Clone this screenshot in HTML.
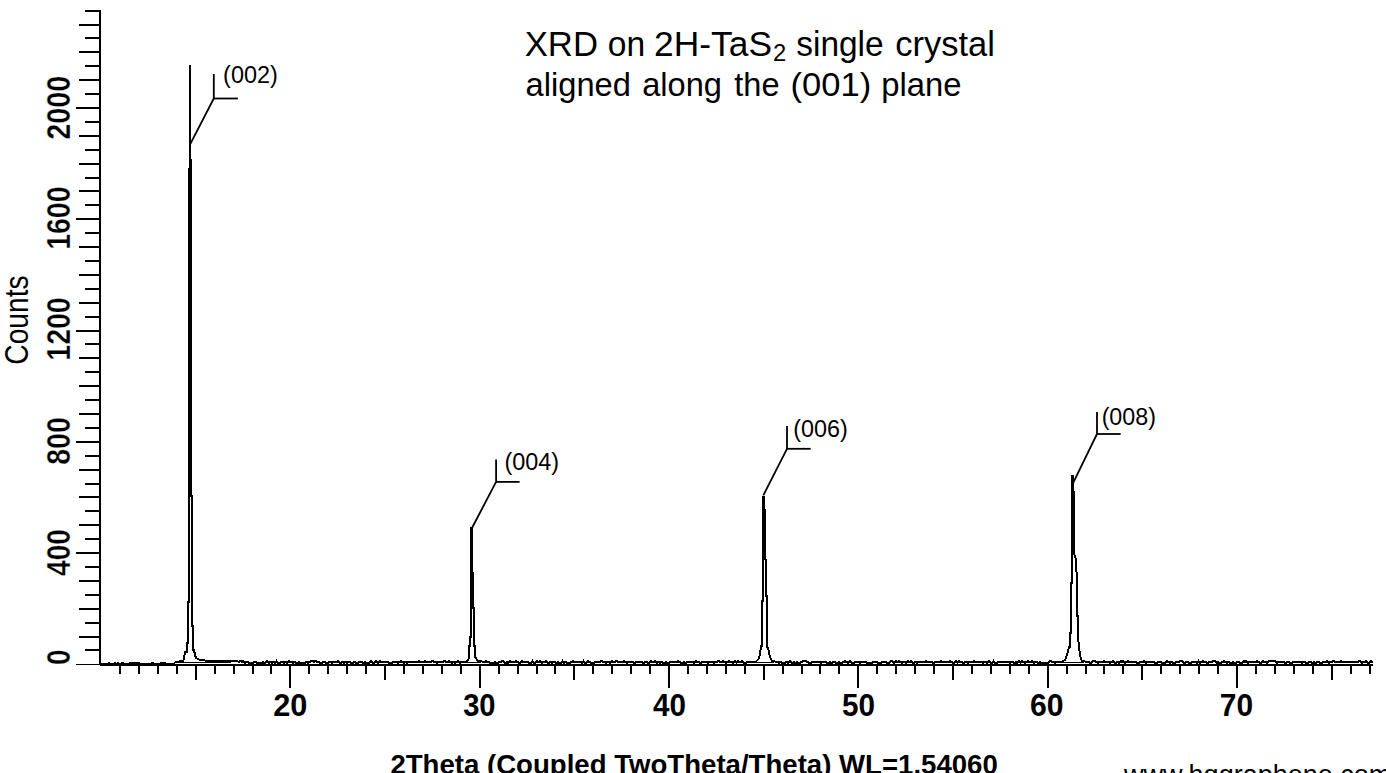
<!DOCTYPE html>
<html><head><meta charset="utf-8"><style>html,body{margin:0;padding:0;background:#fff;width:1386px;height:773px;overflow:hidden}svg{position:absolute;left:0;top:0}text{font-family:"Liberation Sans",sans-serif;fill:#000}</style></head>
<body><svg width="1386" height="773" viewBox="0 0 1386 773">
<g shape-rendering="crispEdges" fill="#000"><rect x="99" y="10" width="2" height="654"/><rect x="76" y="664" width="24" height="1.3"/><rect x="85" y="649" width="15" height="2"/><rect x="79" y="636" width="21" height="2"/><rect x="85" y="622" width="15" height="2"/><rect x="79" y="608" width="21" height="2"/><rect x="85" y="594" width="15" height="2"/><rect x="79" y="580" width="21" height="2"/><rect x="85" y="566" width="15" height="2"/><rect x="76" y="552" width="24" height="2"/><rect x="85" y="538" width="15" height="2"/><rect x="79" y="524" width="21" height="2"/><rect x="85" y="510" width="15" height="2"/><rect x="79" y="496" width="21" height="2"/><rect x="85" y="483" width="15" height="2"/><rect x="79" y="469" width="21" height="2"/><rect x="85" y="455" width="15" height="2"/><rect x="76" y="441" width="24" height="2"/><rect x="85" y="427" width="15" height="2"/><rect x="79" y="413" width="21" height="2"/><rect x="85" y="399" width="15" height="2"/><rect x="79" y="385" width="21" height="2"/><rect x="85" y="371" width="15" height="2"/><rect x="79" y="357" width="21" height="2"/><rect x="85" y="343" width="15" height="2"/><rect x="76" y="330" width="24" height="2"/><rect x="85" y="316" width="15" height="2"/><rect x="79" y="302" width="21" height="2"/><rect x="85" y="288" width="15" height="2"/><rect x="79" y="274" width="21" height="2"/><rect x="85" y="260" width="15" height="2"/><rect x="79" y="246" width="21" height="2"/><rect x="85" y="232" width="15" height="2"/><rect x="76" y="218" width="24" height="2"/><rect x="85" y="204" width="15" height="2"/><rect x="79" y="190" width="21" height="2"/><rect x="85" y="177" width="15" height="2"/><rect x="79" y="163" width="21" height="2"/><rect x="85" y="149" width="15" height="2"/><rect x="79" y="135" width="21" height="2"/><rect x="85" y="121" width="15" height="2"/><rect x="76" y="107" width="24" height="2"/><rect x="85" y="93" width="15" height="2"/><rect x="79" y="79" width="21" height="2"/><rect x="85" y="65" width="15" height="2"/><rect x="79" y="51" width="21" height="2"/><rect x="85" y="37" width="15" height="2"/><rect x="79" y="24" width="21" height="2"/><rect x="85" y="10" width="15" height="2"/><rect x="100" y="664" width="1273" height="2"/><rect x="119" y="665" width="2" height="8.7"/><rect x="138" y="665" width="2" height="8.7"/><rect x="157" y="665" width="2" height="8.7"/><rect x="176" y="665" width="2" height="8.7"/><rect x="195" y="665" width="2" height="14.6"/><rect x="214" y="665" width="2" height="8.7"/><rect x="233" y="665" width="2" height="8.7"/><rect x="252" y="665" width="2" height="8.7"/><rect x="270" y="665" width="2" height="8.7"/><rect x="289" y="665" width="2" height="23.3"/><rect x="308" y="665" width="2" height="8.7"/><rect x="327" y="665" width="2" height="8.7"/><rect x="346" y="665" width="2" height="8.7"/><rect x="365" y="665" width="2" height="8.7"/><rect x="384" y="665" width="2" height="14.6"/><rect x="403" y="665" width="2" height="8.7"/><rect x="422" y="665" width="2" height="8.7"/><rect x="441" y="665" width="2" height="8.7"/><rect x="460" y="665" width="2" height="8.7"/><rect x="479" y="665" width="2" height="23.3"/><rect x="498" y="665" width="2" height="8.7"/><rect x="517" y="665" width="2" height="8.7"/><rect x="536" y="665" width="2" height="8.7"/><rect x="554" y="665" width="2" height="8.7"/><rect x="573" y="665" width="2" height="14.6"/><rect x="592" y="665" width="2" height="8.7"/><rect x="611" y="665" width="2" height="8.7"/><rect x="630" y="665" width="2" height="8.7"/><rect x="649" y="665" width="2" height="8.7"/><rect x="668" y="665" width="2" height="23.3"/><rect x="687" y="665" width="2" height="8.7"/><rect x="706" y="665" width="2" height="8.7"/><rect x="725" y="665" width="2" height="8.7"/><rect x="744" y="665" width="2" height="8.7"/><rect x="763" y="665" width="2" height="14.6"/><rect x="782" y="665" width="2" height="8.7"/><rect x="801" y="665" width="2" height="8.7"/><rect x="819" y="665" width="2" height="8.7"/><rect x="838" y="665" width="2" height="8.7"/><rect x="857" y="665" width="2" height="23.3"/><rect x="876" y="665" width="2" height="8.7"/><rect x="895" y="665" width="2" height="8.7"/><rect x="914" y="665" width="2" height="8.7"/><rect x="933" y="665" width="2" height="8.7"/><rect x="952" y="665" width="2" height="14.6"/><rect x="971" y="665" width="2" height="8.7"/><rect x="990" y="665" width="2" height="8.7"/><rect x="1009" y="665" width="2" height="8.7"/><rect x="1028" y="665" width="2" height="8.7"/><rect x="1047" y="665" width="2" height="23.3"/><rect x="1066" y="665" width="2" height="8.7"/><rect x="1085" y="665" width="2" height="8.7"/><rect x="1103" y="665" width="2" height="8.7"/><rect x="1122" y="665" width="2" height="8.7"/><rect x="1141" y="665" width="2" height="14.6"/><rect x="1160" y="665" width="2" height="8.7"/><rect x="1179" y="665" width="2" height="8.7"/><rect x="1198" y="665" width="2" height="8.7"/><rect x="1217" y="665" width="2" height="8.7"/><rect x="1236" y="665" width="2" height="23.3"/><rect x="1255" y="665" width="2" height="8.7"/><rect x="1274" y="665" width="2" height="8.7"/><rect x="1293" y="665" width="2" height="8.7"/><rect x="1312" y="665" width="2" height="8.7"/><rect x="1331" y="665" width="2" height="14.6"/><rect x="1350" y="665" width="2" height="8.7"/><rect x="1369" y="665" width="2" height="8.7"/></g>
<text transform="translate(524.694,55.9) scale(1.006,1.042)" font-size="34.5">XRD</text>
<text transform="translate(607.826,55.9) scale(0.974,1.03)" font-size="34.5">on</text>
<text transform="translate(654.048,55.9) scale(1.026,1.042)" font-size="34.5">2H-TaS</text>
<text transform="translate(773.009,60.8) scale(0.991,1.018)" font-size="24">2</text>
<text transform="translate(796.23,55.9) scale(0.97,1.03)" font-size="34.5">single</text>
<text transform="translate(895.2,55.9) scale(1,1.03)" font-size="34.5">crystal</text>
<text transform="translate(525.539,95.8) scale(0.961,1)" font-size="34">aligned</text>
<text transform="translate(642.241,95.8) scale(0.959,1)" font-size="34">along</text>
<text transform="translate(734.2,95.8) scale(0.959,1)" font-size="34">the</text>
<text transform="translate(790.568,95.8) scale(1.016,1)" font-size="34">(001)</text>
<text transform="translate(881.168,95.8) scale(0.966,1)" font-size="34">plane</text>
<text transform="translate(273.177,715.8) scale(1.023,1.03)" font-size="30" font-weight="bold">20</text>
<text transform="translate(463.129,715.8) scale(0.971,1.03)" font-size="30" font-weight="bold">30</text>
<text transform="translate(652.9,715.8) scale(0.988,1.03)" font-size="30" font-weight="bold">40</text>
<text transform="translate(842.01,715.8) scale(0.99,1.03)" font-size="30" font-weight="bold">50</text>
<text transform="translate(1030.094,715.8) scale(1.006,1.03)" font-size="30" font-weight="bold">60</text>
<text transform="translate(1219.803,715.8) scale(0.997,1.03)" font-size="30" font-weight="bold">70</text>
<text transform="translate(223.122,82.8) scale(0.978,1)" font-size="24">(002)</text>
<text transform="translate(504.424,469.8) scale(0.976,1)" font-size="24">(004)</text>
<text transform="translate(793.326,436.8) scale(0.974,1)" font-size="24">(006)</text>
<text transform="translate(1101.631,424.8) scale(0.969,1)" font-size="24">(008)</text>
<text transform="translate(70,139.83) rotate(-90) scale(1.03,1.211)" font-size="28" font-weight="bold" stroke="#fff" stroke-width="0.3">2000</text>
<text transform="translate(70,249.834) rotate(-90) scale(1.017,1.211)" font-size="28" font-weight="bold" stroke="#fff" stroke-width="0.3">1600</text>
<text transform="translate(70,360.737) rotate(-90) scale(1.019,1.211)" font-size="28" font-weight="bold" stroke="#fff" stroke-width="0.3">1200</text>
<text transform="translate(69.9,464.818) rotate(-90) scale(1.018,1.195)" font-size="28" font-weight="bold" stroke="#fff" stroke-width="0.3">800</text>
<text transform="translate(70,575.9) rotate(-90) scale(0.998,1.211)" font-size="28" font-weight="bold" stroke="#fff" stroke-width="0.3">400</text>
<text transform="translate(69.8,664.893) rotate(-90) scale(0.993,1.2)" font-size="28" font-weight="bold" stroke="#fff" stroke-width="0.3">0</text>
<text transform="translate(28.3,364.708) rotate(-90) scale(1.008,1.163)" font-size="28">Counts</text>
<text transform="translate(390.4,773.69) scale(1,1)" font-size="27.6" font-weight="bold">2Theta (Coupled TwoTheta/Theta) WL=1.54060</text>
<text transform="translate(1124.1,784.1)" font-size="27">www.hqgraphene.com</text>
<polyline points="190.1,144.3 213.8,98.5 213.8,73.9" fill="none" stroke="#000" stroke-width="1.8"/>
<line x1="213.8" y1="98.5" x2="237.9" y2="98.5" stroke="#000" stroke-width="1.8"/>
<polyline points="471.7,528.5 496.1,481.9 496.1,459.4" fill="none" stroke="#000" stroke-width="1.8"/>
<line x1="496.1" y1="481.9" x2="519.6" y2="481.9" stroke="#000" stroke-width="1.8"/>
<polyline points="763.3,495.4 787,448.8 787,426.1" fill="none" stroke="#000" stroke-width="1.8"/>
<line x1="787" y1="448.8" x2="810.7" y2="448.8" stroke="#000" stroke-width="1.8"/>
<polyline points="1073.3,482.7 1097,434.0 1097,411.9" fill="none" stroke="#000" stroke-width="1.8"/>
<line x1="1097" y1="434.0" x2="1120.7" y2="434.0" stroke="#000" stroke-width="1.8"/>
<rect x="179" y="662" width="52" height="1" shape-rendering="crispEdges"/>
<rect x="466" y="662" width="15" height="1" shape-rendering="crispEdges"/>
<rect x="754" y="662" width="20" height="1" shape-rendering="crispEdges"/>
<rect x="1061" y="662" width="23" height="1" shape-rendering="crispEdges"/>
<path d="M100.0,664.0 L101.5,664.0 L103.0,664.0 L104.5,664.0 L106.0,664.0 L107.5,664.0 L109.0,663.0 L110.5,664.0 L112.0,664.0 L113.5,664.0 L115.0,663.0 L116.5,664.0 L118.0,663.0 L119.5,664.0 L121.0,664.0 L122.5,663.0 L124.0,664.0 L125.5,664.0 L127.0,664.0 L128.5,664.0 L130.0,663.0 L131.5,663.0 L133.0,664.0 L134.5,663.0 L136.0,663.0 L137.5,663.0 L139.0,663.0 L140.5,664.0 L142.0,664.0 L143.5,664.0 L145.0,664.0 L146.5,664.0 L148.0,664.0 L149.5,664.0 L151.0,664.0 L152.5,663.0 L154.0,664.0 L155.5,664.0 L157.0,664.0 L158.5,664.0 L160.0,664.0 L161.5,663.0 L163.0,663.0 L164.5,663.0 L166.0,664.0 L167.5,664.0 L169.0,664.0 L170.5,664.0 L172.0,663.9 L173.5,663.9 L175.0,662.5 L179.0,661.5 L183.5,660.5 L184.0,658.0 L185.0,652.0 L187.0,652.0 L187.0,642.5 L188.0,642.5 L188.0,602.0 L189.0,602.0 L189.0,169.0 L190.0,169.0 L190.0,160.0 L190.0,65.0 L190.0,65.0 L190.0,160.0 L191.0,160.0 L191.0,496.0 L192.0,496.0 L192.0,626.0 L193.0,626.0 L193.0,650.0 L194.0,650.0 L195.0,655.0 L196.0,658.0 L199.0,659.5 L205.0,660.5 L215.0,661.0 L235.0,661.5 L236.0,661.1 L237.5,661.1 L239.0,662.0 L240.5,661.0 L242.0,662.0 L243.5,661.0 L245.0,663.0 L246.5,662.0 L248.0,662.0 L249.5,663.0 L251.0,663.0 L252.5,663.0 L254.0,662.0 L255.5,662.0 L257.0,663.0 L258.5,663.0 L260.0,663.0 L261.5,663.0 L263.0,662.0 L264.5,663.0 L266.0,662.0 L267.5,661.0 L269.0,663.0 L270.5,662.0 L272.0,663.0 L273.5,662.0 L275.0,663.0 L276.5,661.0 L278.0,663.0 L279.5,663.0 L281.0,662.0 L282.5,662.0 L284.0,663.0 L285.5,662.0 L287.0,663.0 L288.5,661.0 L290.0,662.0 L291.5,662.0 L293.0,663.0 L294.5,662.0 L296.0,663.0 L297.5,663.0 L299.0,662.0 L300.5,663.0 L302.0,663.0 L303.5,663.0 L305.0,663.0 L306.5,662.0 L308.0,663.0 L309.5,662.0 L311.0,661.0 L312.5,661.0 L314.0,662.0 L315.5,661.0 L317.0,662.0 L318.5,662.0 L320.0,663.0 L321.5,663.0 L323.0,662.0 L324.5,662.0 L326.0,663.0 L327.5,663.0 L329.0,662.0 L330.5,662.0 L332.0,663.0 L333.5,662.0 L335.0,662.0 L336.5,662.0 L338.0,661.0 L339.5,663.0 L341.0,663.0 L342.5,662.0 L344.0,663.0 L345.5,662.0 L347.0,663.0 L348.5,662.0 L350.0,662.0 L351.5,663.0 L353.0,663.0 L354.5,662.0 L356.0,663.0 L357.5,663.0 L359.0,662.0 L360.5,662.0 L362.0,662.0 L363.5,663.0 L365.0,662.0 L366.5,663.0 L368.0,663.0 L369.5,663.0 L371.0,661.0 L372.5,663.0 L374.0,663.0 L375.5,661.0 L377.0,662.0 L378.5,663.0 L380.0,661.0 L381.5,662.0 L383.0,662.0 L384.5,662.0 L386.0,662.0 L387.5,662.0 L389.0,663.0 L390.5,663.0 L392.0,663.0 L393.5,662.0 L395.0,662.0 L396.5,662.0 L398.0,663.0 L399.5,662.0 L401.0,661.0 L402.5,662.0 L404.0,663.0 L405.5,662.0 L407.0,663.0 L408.5,662.0 L410.0,662.0 L411.5,662.0 L413.0,662.0 L414.5,662.0 L416.0,662.0 L417.5,662.0 L419.0,661.0 L420.5,662.0 L422.0,662.0 L423.5,662.0 L425.0,661.0 L426.5,662.0 L428.0,662.0 L429.5,662.0 L431.0,662.0 L432.5,661.0 L434.0,662.0 L435.5,662.0 L437.0,663.0 L438.5,662.0 L440.0,662.0 L441.5,662.0 L443.0,662.0 L444.5,661.0 L446.0,662.0 L447.5,662.0 L449.0,661.0 L450.5,662.0 L452.0,663.0 L453.5,662.0 L455.0,663.0 L456.5,662.0 L458.0,661.0 L459.5,663.0 L461.0,662.0 L462.0,662.5 L467.0,661.5 L468.5,659.0 L469.0,657.0 L469.0,646.0 L470.0,646.0 L470.0,636.6 L471.0,636.6 L471.0,528.0 L472.0,528.0 L472.0,573.0 L473.0,573.0 L473.0,608.4 L474.0,608.4 L474.0,645.8 L475.0,645.8 L475.0,657.0 L476.5,659.0 L478.0,661.0 L485.0,662.0 L486.0,661.0 L487.5,662.0 L489.0,662.0 L490.5,663.0 L492.0,663.0 L493.5,663.0 L495.0,662.0 L496.5,663.0 L498.0,663.0 L499.5,662.0 L501.0,662.0 L502.5,661.0 L504.0,662.0 L505.5,663.0 L507.0,662.0 L508.5,663.0 L510.0,661.0 L511.5,662.0 L513.0,662.0 L514.5,662.0 L516.0,661.0 L517.5,662.0 L519.0,663.0 L520.5,663.0 L522.0,661.0 L523.5,662.0 L525.0,662.0 L526.5,662.0 L528.0,662.0 L529.5,663.0 L531.0,663.0 L532.5,661.0 L534.0,663.0 L535.5,663.0 L537.0,661.0 L538.5,662.0 L540.0,661.0 L541.5,663.0 L543.0,662.0 L544.5,662.0 L546.0,661.0 L547.5,663.0 L549.0,663.0 L550.5,662.0 L552.0,663.0 L553.5,662.0 L555.0,662.0 L556.5,663.0 L558.0,662.0 L559.5,663.0 L561.0,663.0 L562.5,661.0 L564.0,663.0 L565.5,662.0 L567.0,663.0 L568.5,663.0 L570.0,663.0 L571.5,662.0 L573.0,661.0 L574.5,662.0 L576.0,662.0 L577.5,662.0 L579.0,662.0 L580.5,662.0 L582.0,663.0 L583.5,661.0 L585.0,663.0 L586.5,663.0 L588.0,661.0 L589.5,662.0 L591.0,663.0 L592.5,663.0 L594.0,663.0 L595.5,662.0 L597.0,662.0 L598.5,662.0 L600.0,662.0 L601.5,661.0 L603.0,662.0 L604.5,662.0 L606.0,663.0 L607.5,662.0 L609.0,662.0 L610.5,663.0 L612.0,661.0 L613.5,662.0 L615.0,662.0 L616.5,661.0 L618.0,662.0 L619.5,662.0 L621.0,662.0 L622.5,662.0 L624.0,661.0 L625.5,662.0 L627.0,663.0 L628.5,662.0 L630.0,662.0 L631.5,662.0 L633.0,662.0 L634.5,663.0 L636.0,662.0 L637.5,662.0 L639.0,662.0 L640.5,662.0 L642.0,662.0 L643.5,663.0 L645.0,662.0 L646.5,662.0 L648.0,663.0 L649.5,663.0 L651.0,661.0 L652.5,662.0 L654.0,662.0 L655.5,661.0 L657.0,663.0 L658.5,662.0 L660.0,663.0 L661.5,662.0 L663.0,663.0 L664.5,663.0 L666.0,662.0 L667.5,663.0 L669.0,663.0 L670.5,662.0 L672.0,662.0 L673.5,662.0 L675.0,662.0 L676.5,662.0 L678.0,661.0 L679.5,662.0 L681.0,663.0 L682.5,663.0 L684.0,662.0 L685.5,663.0 L687.0,662.0 L688.5,662.0 L690.0,662.0 L691.5,662.0 L693.0,662.0 L694.5,663.0 L696.0,661.0 L697.5,662.0 L699.0,662.0 L700.5,663.0 L702.0,662.0 L703.5,662.0 L705.0,662.0 L706.5,662.0 L708.0,663.0 L709.5,662.0 L711.0,662.0 L712.5,662.0 L714.0,663.0 L715.5,662.0 L717.0,662.0 L718.5,661.0 L720.0,662.0 L721.5,662.0 L723.0,661.0 L724.5,662.0 L726.0,663.0 L727.5,662.0 L729.0,661.0 L730.5,662.0 L732.0,662.0 L733.5,663.0 L735.0,661.0 L736.5,663.0 L738.0,661.0 L739.5,662.0 L741.0,662.0 L742.5,661.0 L744.0,663.0 L745.5,663.0 L747.0,662.0 L748.5,662.0 L750.0,662.5 L756.0,661.5 L758.5,659.0 L760.0,655.0 L761.0,646.0 L762.0,646.0 L762.0,601.0 L763.0,601.0 L763.0,556.0 L763.0,497.0 L764.0,497.0 L764.0,510.0 L765.0,510.0 L765.0,556.0 L766.0,563.0 L766.0,596.0 L767.0,596.0 L767.0,646.0 L768.5,650.0 L769.5,655.0 L771.0,659.0 L772.0,661.0 L778.0,662.0 L779.0,663.0 L780.5,662.0 L782.0,663.0 L783.5,663.0 L785.0,663.0 L786.5,662.0 L788.0,663.0 L789.5,661.0 L791.0,662.0 L792.5,663.0 L794.0,662.0 L795.5,663.0 L797.0,662.0 L798.5,663.0 L800.0,663.0 L801.5,662.0 L803.0,661.0 L804.5,661.0 L806.0,661.0 L807.5,662.0 L809.0,663.0 L810.5,663.0 L812.0,662.0 L813.5,662.0 L815.0,662.0 L816.5,662.0 L818.0,662.0 L819.5,662.0 L821.0,663.0 L822.5,662.0 L824.0,662.0 L825.5,662.0 L827.0,663.0 L828.5,663.0 L830.0,662.0 L831.5,663.0 L833.0,662.0 L834.5,662.0 L836.0,663.0 L837.5,663.0 L839.0,662.0 L840.5,663.0 L842.0,663.0 L843.5,662.0 L845.0,661.0 L846.5,662.0 L848.0,663.0 L849.5,661.0 L851.0,662.0 L852.5,663.0 L854.0,663.0 L855.5,662.0 L857.0,662.0 L858.5,662.0 L860.0,663.0 L861.5,662.0 L863.0,662.0 L864.5,662.0 L866.0,662.0 L867.5,663.0 L869.0,663.0 L870.5,663.0 L872.0,663.0 L873.5,662.0 L875.0,662.0 L876.5,662.0 L878.0,663.0 L879.5,663.0 L881.0,663.0 L882.5,662.0 L884.0,662.0 L885.5,662.0 L887.0,663.0 L888.5,663.0 L890.0,662.0 L891.5,661.0 L893.0,662.0 L894.5,663.0 L896.0,661.0 L897.5,662.0 L899.0,661.0 L900.5,662.0 L902.0,663.0 L903.5,662.0 L905.0,662.0 L906.5,663.0 L908.0,661.0 L909.5,662.0 L911.0,661.0 L912.5,663.0 L914.0,663.0 L915.5,662.0 L917.0,663.0 L918.5,662.0 L920.0,662.0 L921.5,662.0 L923.0,662.0 L924.5,662.0 L926.0,661.0 L927.5,662.0 L929.0,662.0 L930.5,662.0 L932.0,662.0 L933.5,663.0 L935.0,662.0 L936.5,662.0 L938.0,662.0 L939.5,662.0 L941.0,661.0 L942.5,662.0 L944.0,662.0 L945.5,662.0 L947.0,662.0 L948.5,662.0 L950.0,661.0 L951.5,662.0 L953.0,663.0 L954.5,663.0 L956.0,661.0 L957.5,663.0 L959.0,661.0 L960.5,662.0 L962.0,662.0 L963.5,663.0 L965.0,662.0 L966.5,662.0 L968.0,663.0 L969.5,662.0 L971.0,662.0 L972.5,662.0 L974.0,661.0 L975.5,662.0 L977.0,662.0 L978.5,662.0 L980.0,662.0 L981.5,662.0 L983.0,663.0 L984.5,662.0 L986.0,662.0 L987.5,663.0 L989.0,661.0 L990.5,663.0 L992.0,663.0 L993.5,661.0 L995.0,663.0 L996.5,663.0 L998.0,662.0 L999.5,662.0 L1001.0,662.0 L1002.5,662.0 L1004.0,662.0 L1005.5,662.0 L1007.0,662.0 L1008.5,662.0 L1010.0,663.0 L1011.5,662.0 L1013.0,662.0 L1014.5,663.0 L1016.0,662.0 L1017.5,663.0 L1019.0,661.0 L1020.5,663.0 L1022.0,661.0 L1023.5,662.0 L1025.0,663.0 L1026.5,662.0 L1028.0,661.0 L1029.5,662.0 L1031.0,662.0 L1032.5,661.0 L1034.0,663.0 L1035.5,662.0 L1037.0,662.0 L1038.5,663.0 L1040.0,662.0 L1041.5,663.0 L1043.0,663.0 L1044.5,663.0 L1046.0,663.0 L1047.5,663.0 L1049.0,662.0 L1050.5,661.0 L1052.0,662.0 L1053.5,662.0 L1055.0,663.0 L1056.5,662.0 L1057.0,662.5 L1062.0,661.5 L1065.0,660.0 L1067.0,655.0 L1069.0,647.0 L1070.0,647.0 L1070.0,633.0 L1071.0,633.0 L1071.0,583.0 L1072.0,583.0 L1072.0,476.0 L1073.0,476.0 L1073.0,492.0 L1074.0,492.0 L1074.0,553.0 L1076.0,560.0 L1077.0,583.0 L1077.0,616.0 L1078.0,616.0 L1078.0,637.0 L1079.0,647.0 L1080.0,655.0 L1081.0,659.0 L1082.0,661.0 L1088.0,662.0 L1089.0,662.0 L1090.5,663.0 L1092.0,662.0 L1093.5,661.0 L1095.0,661.0 L1096.5,662.0 L1098.0,663.0 L1099.5,662.0 L1101.0,662.0 L1102.5,662.0 L1104.0,661.0 L1105.5,662.0 L1107.0,662.0 L1108.5,662.0 L1110.0,663.0 L1111.5,662.0 L1113.0,661.0 L1114.5,663.0 L1116.0,663.0 L1117.5,662.0 L1119.0,663.0 L1120.5,661.0 L1122.0,662.0 L1123.5,661.0 L1125.0,663.0 L1126.5,662.0 L1128.0,661.0 L1129.5,662.0 L1131.0,662.0 L1132.5,662.0 L1134.0,662.0 L1135.5,662.0 L1137.0,663.0 L1138.5,663.0 L1140.0,662.0 L1141.5,662.0 L1143.0,662.0 L1144.5,661.0 L1146.0,663.0 L1147.5,662.0 L1149.0,662.0 L1150.5,662.0 L1152.0,662.0 L1153.5,662.0 L1155.0,663.0 L1156.5,663.0 L1158.0,662.0 L1159.5,662.0 L1161.0,662.0 L1162.5,663.0 L1164.0,663.0 L1165.5,663.0 L1167.0,661.0 L1168.5,662.0 L1170.0,663.0 L1171.5,662.0 L1173.0,663.0 L1174.5,663.0 L1176.0,662.0 L1177.5,662.0 L1179.0,662.0 L1180.5,661.0 L1182.0,661.0 L1183.5,663.0 L1185.0,663.0 L1186.5,662.0 L1188.0,662.0 L1189.5,663.0 L1191.0,663.0 L1192.5,662.0 L1194.0,662.0 L1195.5,662.0 L1197.0,663.0 L1198.5,661.0 L1200.0,663.0 L1201.5,662.0 L1203.0,661.0 L1204.5,662.0 L1206.0,662.0 L1207.5,663.0 L1209.0,662.0 L1210.5,662.0 L1212.0,662.0 L1213.5,661.0 L1215.0,661.0 L1216.5,663.0 L1218.0,662.0 L1219.5,663.0 L1221.0,663.0 L1222.5,662.0 L1224.0,661.0 L1225.5,662.0 L1227.0,663.0 L1228.5,662.0 L1230.0,663.0 L1231.5,663.0 L1233.0,662.0 L1234.5,663.0 L1236.0,663.0 L1237.5,662.0 L1239.0,662.0 L1240.5,663.0 L1242.0,663.0 L1243.5,661.0 L1245.0,662.0 L1246.5,661.0 L1248.0,663.0 L1249.5,662.0 L1251.0,662.0 L1252.5,662.0 L1254.0,662.0 L1255.5,662.0 L1257.0,661.0 L1258.5,662.0 L1260.0,663.0 L1261.5,663.0 L1263.0,661.0 L1264.5,662.0 L1266.0,662.0 L1267.5,663.0 L1269.0,661.0 L1270.5,661.0 L1272.0,661.0 L1273.5,661.0 L1275.0,661.0 L1276.5,663.0 L1278.0,662.0 L1279.5,662.0 L1281.0,662.0 L1282.5,662.0 L1284.0,662.0 L1285.5,663.0 L1287.0,662.0 L1288.5,662.0 L1290.0,663.0 L1291.5,663.0 L1293.0,662.0 L1294.5,662.0 L1296.0,662.0 L1297.5,662.0 L1299.0,662.0 L1300.5,662.0 L1302.0,663.0 L1303.5,662.0 L1305.0,662.0 L1306.5,663.0 L1308.0,663.0 L1309.5,662.0 L1311.0,662.0 L1312.5,663.0 L1314.0,662.0 L1315.5,663.0 L1317.0,662.0 L1318.5,662.0 L1320.0,663.0 L1321.5,663.0 L1323.0,662.0 L1324.5,662.0 L1326.0,662.0 L1327.5,661.0 L1329.0,663.0 L1330.5,662.0 L1332.0,662.0 L1333.5,661.0 L1335.0,662.0 L1336.5,662.0 L1338.0,662.0 L1339.5,662.0 L1341.0,661.0 L1342.5,662.0 L1344.0,662.0 L1345.5,662.0 L1347.0,662.0 L1348.5,662.0 L1350.0,662.0 L1351.5,662.0 L1353.0,662.0 L1354.5,662.0 L1356.0,662.0 L1357.5,662.0 L1359.0,661.0 L1360.5,661.0 L1362.0,663.0 L1363.5,662.0 L1365.0,662.0 L1366.5,661.0 L1368.0,663.0 L1369.5,663.0 L1371.0,661.0 L1372.5,663.0" fill="none" stroke="#000" stroke-width="2" shape-rendering="crispEdges"/>
</svg></body></html>
